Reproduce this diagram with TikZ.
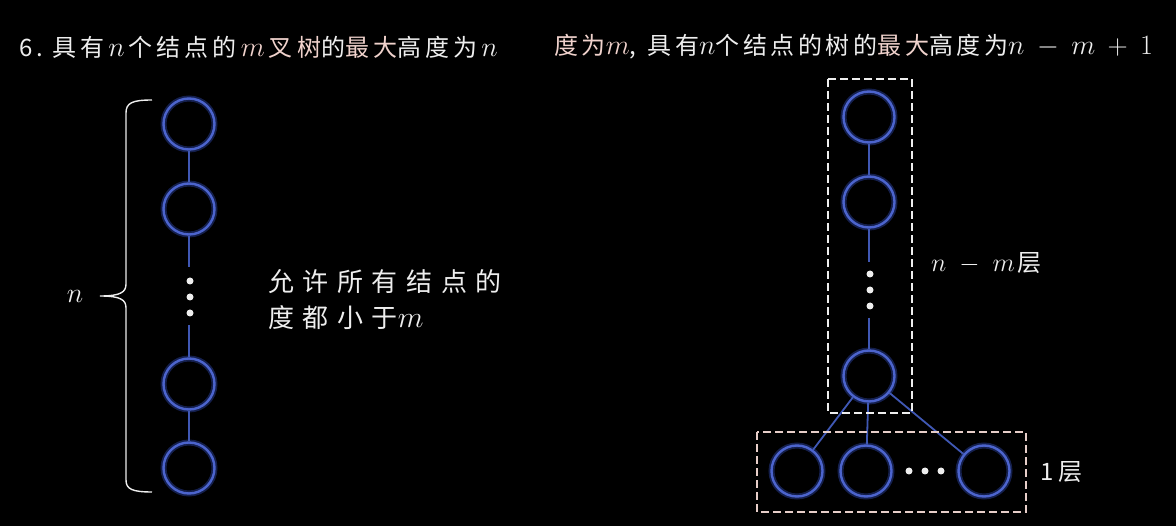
\RequirePackage{fix-cm}
\documentclass[tikz,border=0pt]{standalone}
\usepackage{fontspec}
\setmainfont{Noto Sans CJK SC}
\newfontfamily\titlefont[LetterSpace=17]{Noto Sans CJK SC}
\newfontfamily\titlefontb[LetterSpace=15]{Noto Sans CJK SC}
\newfontfamily\bodyfont[LetterSpace=33]{Noto Sans CJK SC}
\newcommand\mth[2]{{\fontsize{#1}{#1}\selectfont$#2$}}
\definecolor{nodeblue}{RGB}{76,100,205}
\definecolor{glowblue}{RGB}{60,90,220}
\definecolor{edgeblue}{RGB}{64,88,180}
\definecolor{pinkc}{RGB}{240,210,204}
\definecolor{txtc}{RGB}{238,238,238}
\definecolor{pinkbox}{RGB}{230,205,200}
\begin{document}
\begin{tikzpicture}[x=1pt,y=-1pt,
  tn/.style={circle, minimum size=51pt, inner sep=0pt, draw=nodeblue, line width=2.4pt,
    preaction={draw=glowblue, line width=6pt, opacity=0.35}},
  ed/.style={draw=edgeblue, line width=1.8pt},
  dotn/.style={circle, fill=txtc, minimum size=7pt, inner sep=0pt},
  lbl/.style={text=txtc, inner sep=0pt, anchor=west},
  dbox/.style={dashed, dash pattern=on 8pt off 4pt, line width=1.6pt}]
\fill[black] (0,0) rectangle (1176,526);
\useasboundingbox (0,0) rectangle (1176,526);

% titles
\node[lbl] (t1) at (19,47) {\fontsize{24}{28}\selectfont\titlefont 6.\kern9pt 具有\,\mth{28}{n}\,个结点的\,\textcolor{pinkc}{\mth{28}{m}\,叉树}的\textcolor{pinkc}{最大}高度为\,\mth{28}{n}};
\node[lbl] (t2) at (554,47) {\fontsize{24}{28}\selectfont\titlefontb \textcolor{pinkc}{度为\mth{28}{m}},\kern11pt 具有\mth{28}{n}个结点的树的\textcolor{pinkc}{最大}高度为\mth{28}{n\:-\:m\:+\:1}};

% left chain
\node[tn] (a1) at (189,124) {};
\node[tn] (a2) at (189,209) {};
\node[tn] (a3) at (189,384) {};
\node[tn] (a4) at (189,468) {};
\node[dotn] (ad1) at (190,281) {};
\node[dotn] (ad2) at (190,297) {};
\node[dotn] (ad3) at (190,313) {};
\coordinate (ae1) at (189,267);
\coordinate (ae2) at (189,325);
\draw[ed] (a1) -- (a2);
\draw[ed] (a2) -- (ae1);
\draw[ed] (ae2) -- (a3);
\draw[ed] (a3) -- (a4);

% brace
\draw[txtc, line width=1.4pt]
  (152,100) .. controls (132,100) and (126,103) .. (126,113) -- (126,284)
  .. controls (126,292) and (121,296) .. (100,296)
  .. controls (121,296) and (126,300) .. (126,308) -- (126,480)
  .. controls (126,489) and (132,492) .. (152,492);
\node[text=txtc] (nl) at (75,296) {\mth{28}{n}};

% left description
\node[lbl] (d1) at (268,282) {\fontsize{26}{30}\selectfont\bodyfont 允许所有结点的};
\node[lbl] (d2) at (268,318) {\fontsize{26}{30}\selectfont\bodyfont 度都小于\mth{30}{m}};

% right tree
\node[tn] (b1) at (869,117) {};
\node[tn] (b2) at (869,202) {};
\node[tn] (b3) at (869,376) {};
\node[dotn] (bd1) at (870,274) {};
\node[dotn] (bd2) at (870,290) {};
\node[dotn] (bd3) at (870,306) {};
\coordinate (be1) at (869,262);
\coordinate (be2) at (869,318);
\draw[ed] (b1) -- (b2);
\draw[ed] (b2) -- (be1);
\draw[ed] (be2) -- (b3);

\node[tn] (c1) at (797,471) {};
\node[tn] (c2) at (866,471) {};
\node[tn] (c3) at (984,471) {};
\node[dotn] (cd1) at (909,471) {};
\node[dotn] (cd2) at (925,471) {};
\node[dotn] (cd3) at (941,471) {};
\draw[ed] (b3) -- (c1);
\draw[ed] (b3) -- (c2);
\draw[ed] (b3) -- (c3);

\draw[dbox, draw=txtc] (828,79) rectangle (912,413);
\draw[dbox, draw=pinkbox] (757,432) rectangle (1026,512);

\node[lbl] (l1) at (931,263) {\fontsize{24}{28}\selectfont \mth{26}{n\;-\;m}\hspace{3pt}层};
\node[lbl] (l2) at (1040,472) {\fontsize{24}{28}\selectfont 1\hspace{5pt}层};
\end{tikzpicture}
\end{document}
